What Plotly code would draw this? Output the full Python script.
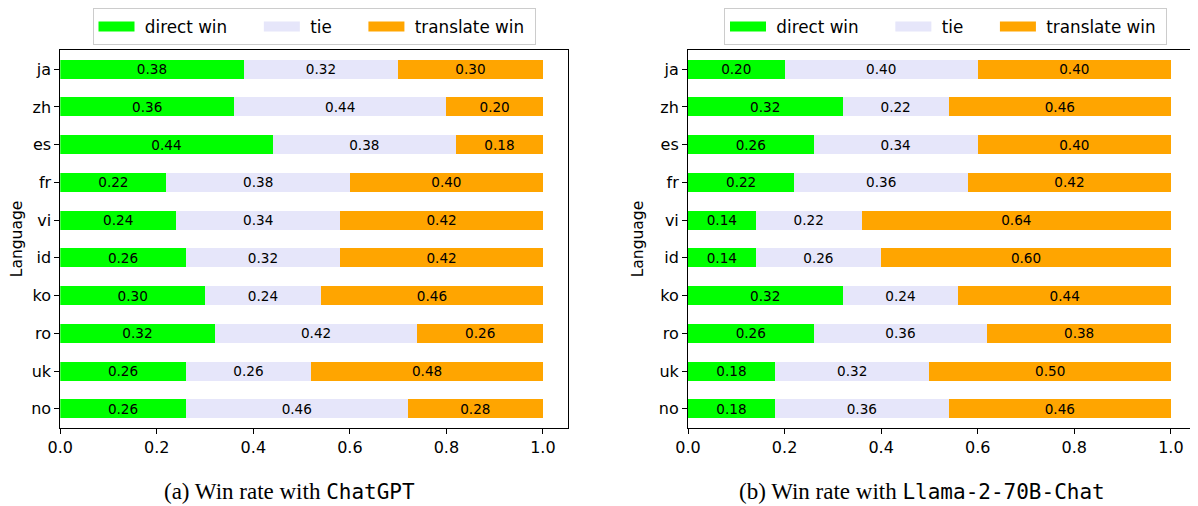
import plotly.graph_objects as go

languages = ["ja", "zh", "es", "fr", "vi", "id", "ko", "ro", "uk", "no"]
series_names = ["direct win", "tie", "translate win"]
colors = ["#00FF00", "#E6E6FA", "#FFA500"]

chatgpt_direct = [0.38, 0.36, 0.44, 0.22, 0.24, 0.26, 0.30, 0.32, 0.26, 0.26]
chatgpt_tie = [0.32, 0.44, 0.38, 0.38, 0.34, 0.32, 0.24, 0.42, 0.26, 0.46]
chatgpt_translate = [0.30, 0.20, 0.18, 0.40, 0.42, 0.42, 0.46, 0.26, 0.48, 0.28]

llama_direct = [0.20, 0.32, 0.26, 0.22, 0.14, 0.14, 0.32, 0.26, 0.18, 0.18]
llama_tie = [0.40, 0.22, 0.34, 0.36, 0.22, 0.26, 0.24, 0.36, 0.32, 0.36]
llama_translate = [0.40, 0.46, 0.40, 0.42, 0.64, 0.60, 0.44, 0.38, 0.50, 0.46]

x_ticks = [0.0, 0.2, 0.4, 0.6, 0.8, 1.0]

# The page body has an 8px default margin; size the figure so it fills the window.
OFF = 8
W, H = 1198 - OFF, 506 - OFF


def px(x):
    return (x - OFF) / W


def py(y):
    return 1 - (y - OFF) / H


# spacing around legend labels (matplotlib-like handle gap and column spacing)
NB = "\u00a0"
legend_pre = [NB, NB, NB]
legend_post = [NB * 5, NB * 5, NB]

fig = go.Figure()
panels = [
    ([chatgpt_direct, chatgpt_tie, chatgpt_translate], "x", "y", "legend"),
    ([llama_direct, llama_tie, llama_translate], "x2", "y2", "legend2"),
]
for series, xa, ya, lg in panels:
    for name, vals, col in zip(series_names, series, colors):
        fig.add_trace(go.Bar(
            x=vals, y=languages, orientation="h", name=name, showlegend=False,
            marker=dict(color=col, line=dict(width=0)),
            texttemplate="%{x:.2f}", textposition="inside",
            insidetextanchor="middle", textangle=0, constraintext="none",
            insidetextfont=dict(family="DejaVu Sans", size=13.6, color="black"),
            xaxis=xa, yaxis=ya, hoverinfo="skip",
        ))
    for name, pre, post, col in zip(series_names, legend_pre, legend_post, colors):
        fig.add_trace(go.Scatter(
            x=[None], y=[None], mode="lines", name=pre + name + post,
            line=dict(color=col, width=12),
            xaxis=xa, yaxis=ya, legend=lg, hoverinfo="skip",
        ))

ydom = [py(427.7), py(50.3)]
axis_common = dict(
    showline=True, linecolor="black", linewidth=1, mirror=True,
    ticks="outside", ticklen=5, tickcolor="black",
    tickfont=dict(family="DejaVu Sans", size=16, color="black"),
    showgrid=False, zeroline=False, automargin=False,
)
legend_common = dict(
    orientation="h", yanchor="top", y=1.0, xanchor="center",
    bordercolor="#CCCCCC", borderwidth=1, bgcolor="white",
    font=dict(family="DejaVu Sans", size=16.8, color="black"),
    itemwidth=36, traceorder="normal",
)
ytitle = dict(text="Language", font=dict(family="DejaVu Sans", size=15.5), standoff=11)
fig.update_layout(
    width=W, height=H, barmode="stack", bargap=0.5,
    plot_bgcolor="white", paper_bgcolor="white",
    margin=dict(l=0, r=0, t=0, b=0, pad=0, autoexpand=False),
    font=dict(family="DejaVu Sans", color="black"),
    showlegend=True,
    xaxis=dict(domain=[px(60.3), px(568)], range=[0, 1.052], tickvals=x_ticks,
               ticktext=[f"{v:.1f}" for v in x_ticks], anchor="y", **axis_common),
    xaxis2=dict(domain=[px(688), px(1196)], range=[0, 1.052], tickvals=x_ticks,
                ticktext=[f"{v:.1f}" for v in x_ticks], anchor="y2", **axis_common),
    yaxis=dict(domain=ydom, categoryorder="array", categoryarray=languages,
               range=[9.5, -0.5], anchor="x", title=ytitle, **axis_common),
    yaxis2=dict(domain=ydom, categoryorder="array", categoryarray=languages,
                range=[9.5, -0.5], anchor="x2", title=ytitle, **axis_common),
    legend=dict(x=px(314), **legend_common),
    legend2=dict(x=px(945.5), **legend_common),
    annotations=[
        dict(xref="paper", yref="paper", x=px(289), y=py(491),
             xanchor="center", yanchor="middle", showarrow=False,
             text="(a) Win rate with <span style='font-family:DejaVu Sans Mono;font-size:21px'>ChatGPT</span>",
             font=dict(family="Liberation Serif", size=23, color="black")),
        dict(xref="paper", yref="paper", x=px(921.5), y=py(491),
             xanchor="center", yanchor="middle", showarrow=False,
             text="(b) Win rate with <span style='font-family:DejaVu Sans Mono;font-size:21px'>Llama-2-70B-Chat</span>",
             font=dict(family="Liberation Serif", size=23, color="black")),
    ],
)

fig.write_html("out.html")
